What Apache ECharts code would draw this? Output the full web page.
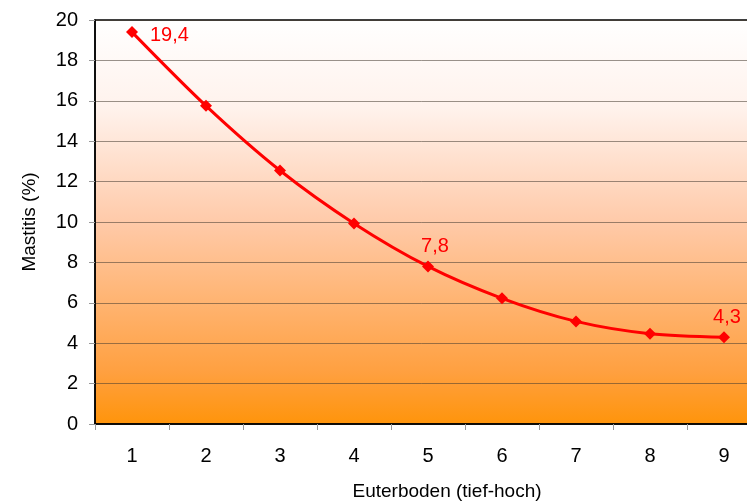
<!DOCTYPE html>
<html><head><meta charset="utf-8">
<script src="https://cdn.jsdelivr.net/npm/echarts@6/dist/echarts.min.js"></script>
<style>html,body{margin:0;padding:0;background:#fff}#c{width:747px;height:504px}</style>
</head><body><div id="c"></div>
<script>
const categories = ['1','2','3','4','5','6','7','8','9'];
const mastitis = [19.4, 15.75, 12.55, 9.93, 7.8, 6.22, 5.08, 4.47, 4.3];
const labelled = {0: 'right', 4: 'top', 8: 'top'};
const yTicks = {min: 0, max: 20, interval: 2};

const chart = echarts.init(document.getElementById('c'));
const font = 'Liberation Sans, Arial, sans-serif';
chart.setOption({
  animation: false,
  grid: {
    left: 95, top: 20, width: 666, height: 404, show: true,
    outerBoundsMode: 'none', containLabel: false,
    borderColor: '#000', borderWidth: 1.5,
    backgroundColor: new echarts.graphic.LinearGradient(0, 0, 0, 1, [
      {offset: 0, color: '#ffffff'},
      {offset: 0.22, color: '#fff2ec'},
      {offset: 0.5, color: '#ffcaa9'},
      {offset: 0.87, color: '#ffa040'},
      {offset: 1, color: '#ff940a'}
    ])
  },
  xAxis: {
    type: 'category', data: categories, boundaryGap: true,
    name: 'Euterboden (tief-hoch)', nameLocation: 'middle', nameGap: 58,
    nameTextStyle: {fontFamily: font, fontSize: 19, color: '#000', padding: [0, 0, 0, 38]},
    axisLine: {lineStyle: {color: '#000', width: 1.5}},
    axisTick: {show: true, length: 6, lineStyle: {color: '#999'}},
    axisLabel: {fontFamily: font, fontSize: 20, color: '#000', margin: 22},
    splitLine: {show: false}
  },
  yAxis: {
    type: 'value', min: yTicks.min, max: yTicks.max, interval: yTicks.interval,
    name: 'Mastitis (%)', nameLocation: 'middle', nameGap: 56,
    nameTextStyle: {fontFamily: font, fontSize: 19, color: '#000'},
    axisLine: {show: true, lineStyle: {color: '#000', width: 1.5}},
    axisTick: {show: true, length: 6, lineStyle: {color: '#999'}},
    axisLabel: {fontFamily: font, fontSize: 20, color: '#000', margin: 17},
    splitLine: {show: true, lineStyle: {color: 'rgba(70,60,50,0.55)', width: 1}}
  },
  series: [{
    type: 'line', data: mastitis.map((v, i) => ({
      value: v,
      label: labelled[i] ? {
        show: true, position: labelled[i],
        distance: labelled[i] === 'right' ? 12 : 4,
        offset: i === 4 ? [7, 0] : (i === 8 ? [3, 0] : [0, 3]),
        formatter: p => String(p.value).replace('.', ',')
      } : {show: false}
    })),
    smooth: 0.3,
    symbol: 'diamond', symbolSize: 12,
    lineStyle: {color: '#ff0000', width: 3},
    itemStyle: {color: '#ff0000'},
    label: {fontFamily: font, fontSize: 20, color: '#ff0000'}
  }]
});
</script></body></html>
